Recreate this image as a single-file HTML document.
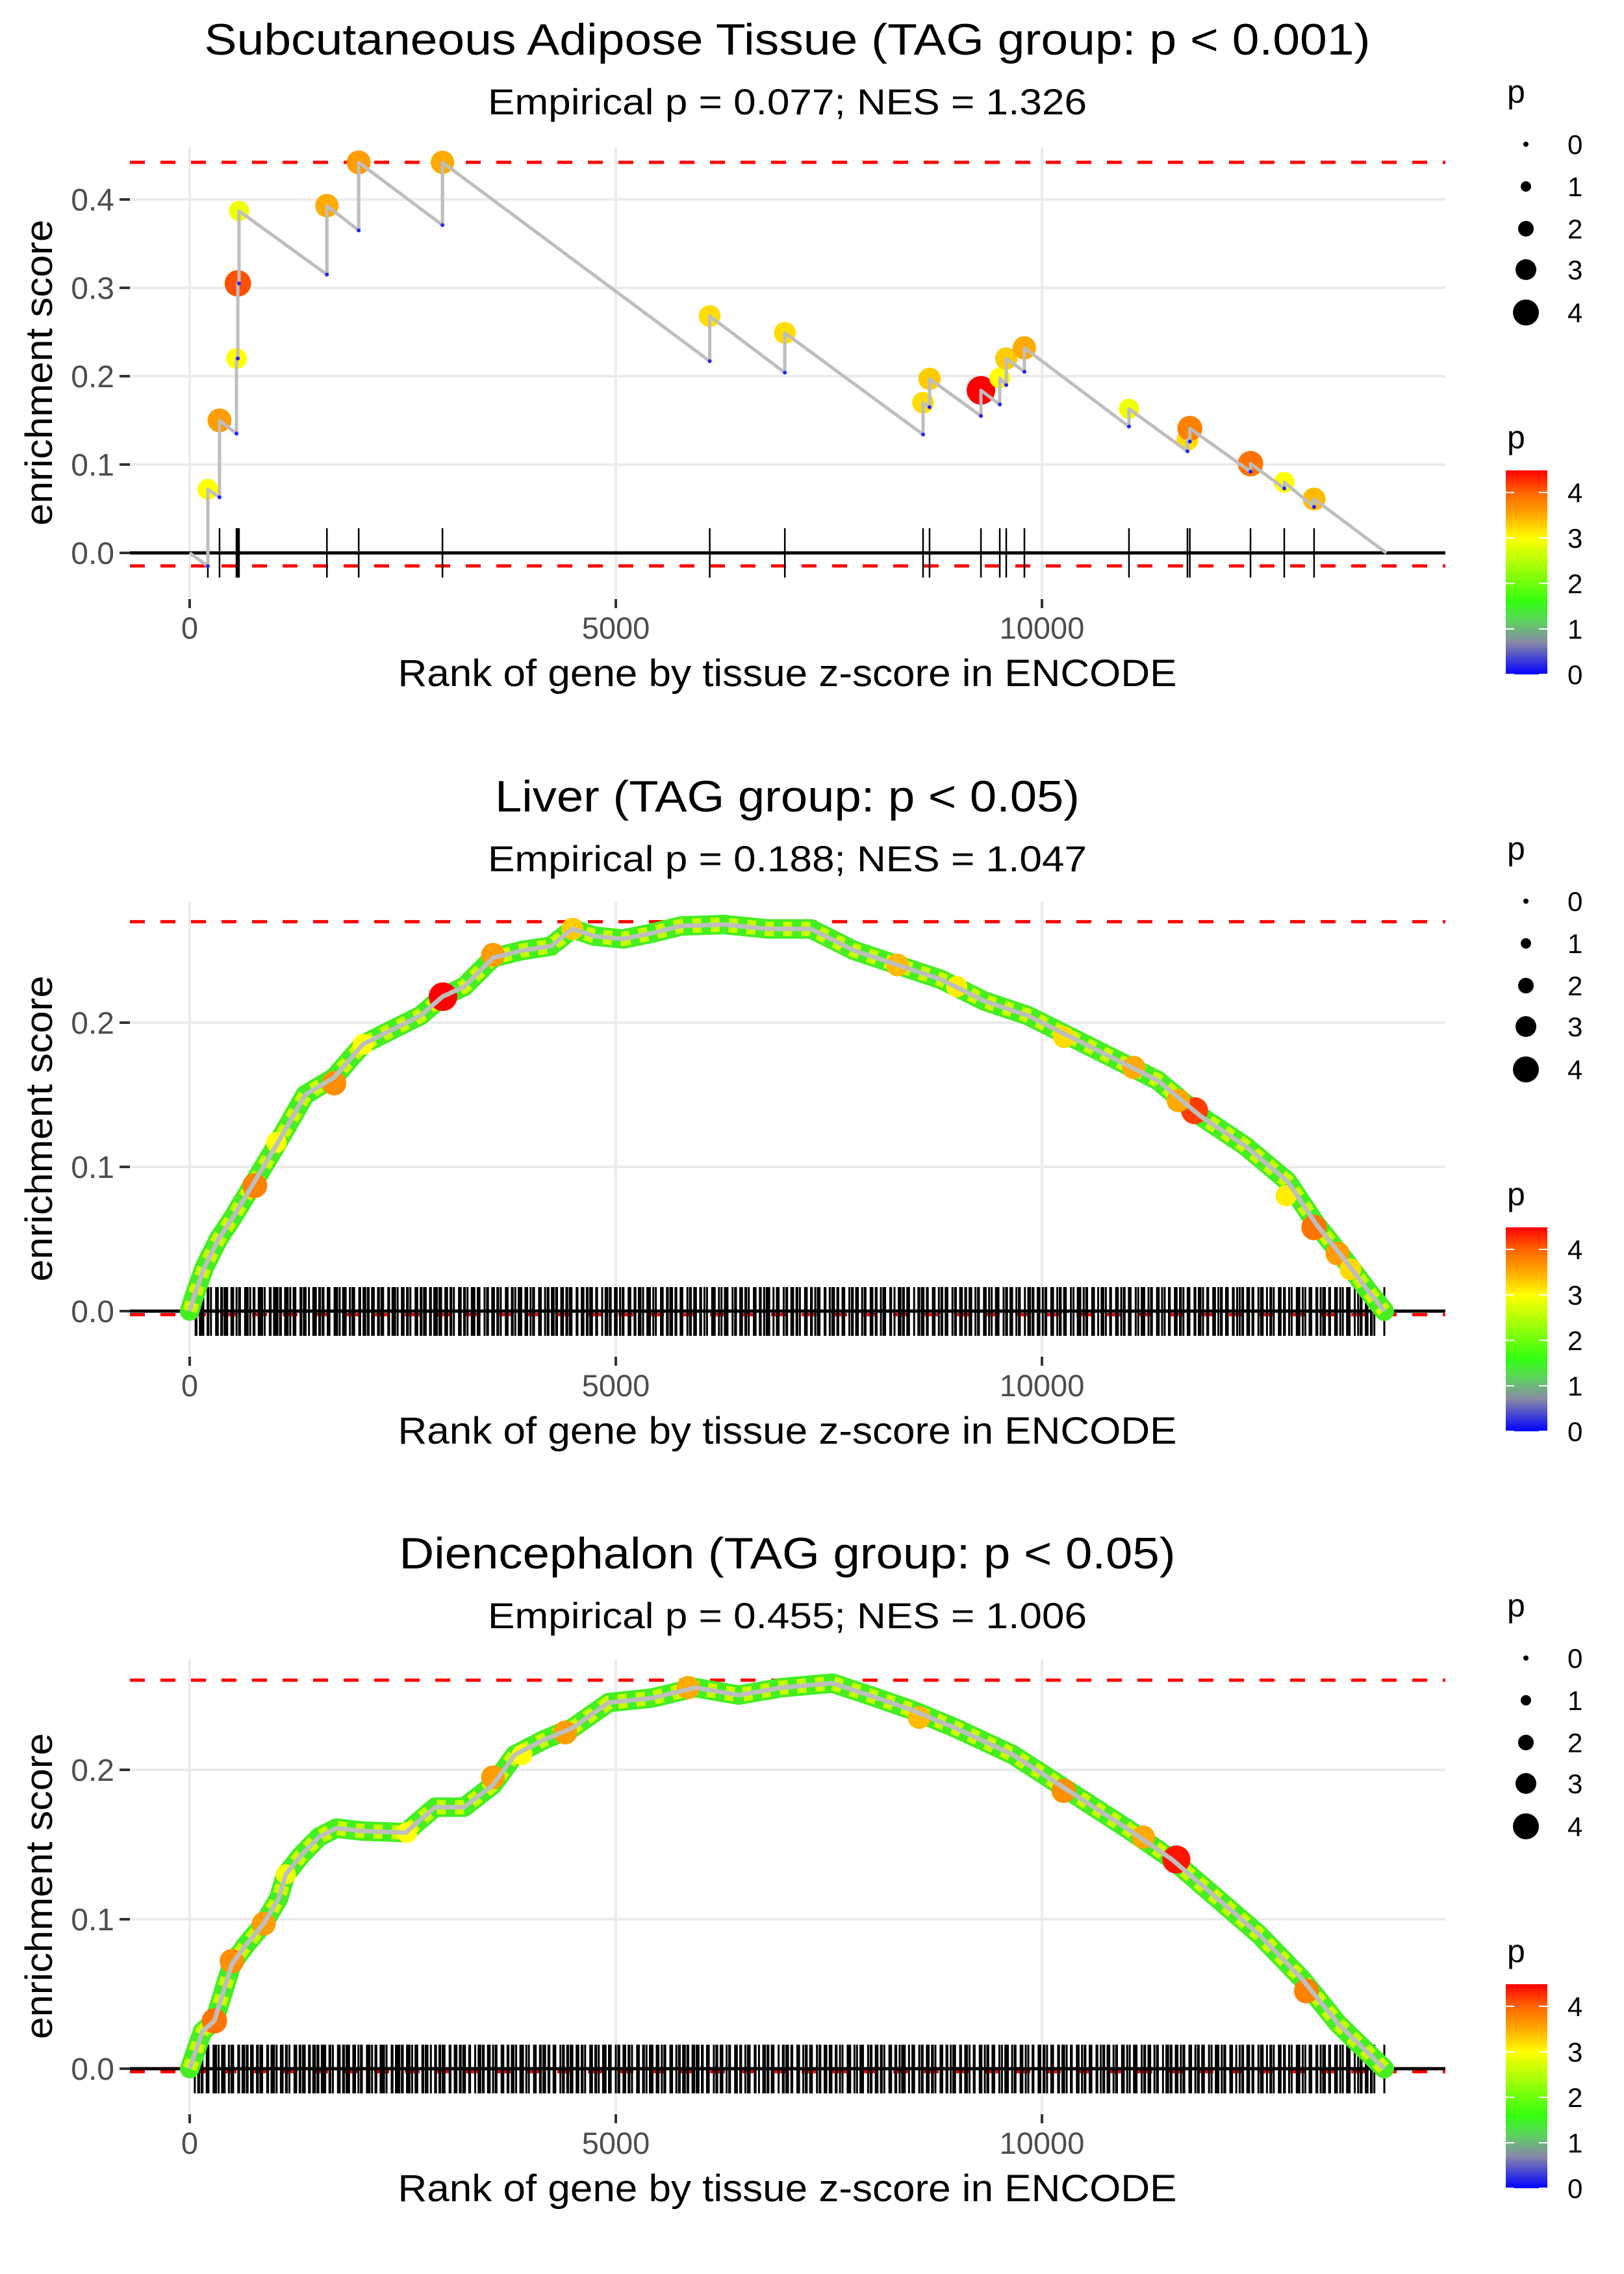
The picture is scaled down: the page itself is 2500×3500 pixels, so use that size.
<!DOCTYPE html>
<html><head><meta charset="utf-8"><style>
html,body{margin:0;padding:0;background:#fff;}
svg{display:block;font-family:"Liberation Sans",Arial,sans-serif;}
</style></head><body>
<svg id="chart" xmlns="http://www.w3.org/2000/svg" width="2500" height="3500" viewBox="0 0 2500 3500">
<defs>
<linearGradient id="pgrad" x1="0" y1="1" x2="0" y2="0">
<stop offset="0" stop-color="#0000ff"/><stop offset="0.156" stop-color="#8888a8"/><stop offset="0.267" stop-color="#5ad65a"/><stop offset="0.356" stop-color="#33ff11"/><stop offset="0.668" stop-color="#ffff00"/><stop offset="0.78" stop-color="#ffaa00"/><stop offset="0.89" stop-color="#ff6600"/><stop offset="1" stop-color="#ff0000"/>
</linearGradient>
</defs>
<rect x="0" y="0" width="2500" height="3500" fill="#fff"/>
<g text-anchor="middle" fill="#000">
<text x="1212" y="84" font-size="68" textLength="1795" lengthAdjust="spacingAndGlyphs">Subcutaneous Adipose Tissue (TAG group: p &lt; 0.001)</text>
<text x="1212" y="176" font-size="56" textLength="922" lengthAdjust="spacingAndGlyphs">Empirical p = 0.077; NES = 1.326</text>
<text x="1212" y="1249" font-size="68" textLength="900" lengthAdjust="spacingAndGlyphs">Liver (TAG group: p &lt; 0.05)</text>
<text x="1212" y="1341" font-size="56" textLength="922" lengthAdjust="spacingAndGlyphs">Empirical p = 0.188; NES = 1.047</text>
<text x="1212" y="2414" font-size="68" textLength="1195" lengthAdjust="spacingAndGlyphs">Diencephalon (TAG group: p &lt; 0.05)</text>
<text x="1212" y="2506" font-size="56" textLength="922" lengthAdjust="spacingAndGlyphs">Empirical p = 0.455; NES = 1.006</text>
</g>
</svg>
<script>
// ---------- data ----------
const xTicks = [0, 5000, 10000];
const xTickLabels = ["0", "5000", "10000"];
const yTicks1 = [0, 0.1, 0.2, 0.3, 0.4];
const yTicks2 = [0, 0.1, 0.2];
const yTicks3 = [0, 0.1, 0.2];
const yTickLabels1 = ["0.0", "0.1", "0.2", "0.3", "0.4"];
const yTickLabels2 = ["0.0", "0.1", "0.2"];
const yTickLabels3 = ["0.0", "0.1", "0.2"];
const legendSizes = [0, 1, 2, 3, 4];
const legendLabels = ["0", "1", "2", "3", "4"];

// panel 1 (adipose) hits
const hitRank1 = [213,350,549,565,579,1610,1983,2966,6102,6983,8605,8681,9284,9505,9581,9794,11021,11707,11735,12447,12843,13193];
const troughES1 = [-0.015,0.063,0.135,0.22,0.305,0.315,0.365,0.371,0.217,0.204,0.134,0.165,0.155,0.168,0.19,0.205,0.143,0.115,0.126,0.092,0.073,0.052];
const peakES1 = [0.072,0.15,0.22,0.305,0.387,0.393,0.442,0.442,0.268,0.249,0.17,0.197,0.184,0.198,0.22,0.232,0.163,0.128,0.141,0.101,0.08,0.061];
const hitP1 = [3.0,3.6,3.0,4.1,2.9,3.5,3.6,3.5,3.2,3.2,3.2,3.3,4.5,3.0,3.3,3.5,2.9,3.2,3.8,3.9,3.0,3.4];
const endRank1 = 14040;
const maxES1 = 0.442, minES1 = -0.0147;

// panel 2 (liver) curve
const curveRank2 = [0,51,170,339,508,763,1017,1356,1695,2034,2373,2712,2966,3221,3560,3899,4238,4492,4746,5085,5424,5763,6272,6780,7289,7797,8306,8814,9323,9831,10340,10848,11357,11865,12374,12882,13221,13560,13815,14017];
const curveES2 = [0,0.01,0.03,0.05,0.065,0.09,0.115,0.15,0.162,0.185,0.195,0.205,0.218,0.225,0.245,0.25,0.253,0.265,0.26,0.258,0.262,0.267,0.268,0.265,0.265,0.25,0.24,0.23,0.215,0.205,0.19,0.175,0.16,0.135,0.115,0.09,0.06,0.035,0.015,0];
const bigRank2 = [2972,3560,1695,763,11791,11600,11075,10259,12866,13193,13468,13620,8306,9000,4492,2034,1017];
const bigES2 = [0.218,0.247,0.158,0.087,0.139,0.146,0.169,0.19,0.08,0.058,0.04,0.029,0.24,0.225,0.265,0.185,0.117];
const bigP2 = [4.5,3.6,3.7,3.8,4.2,3.5,3.5,3.2,3.1,3.9,3.6,3.2,3.4,3.1,3.3,3.0,3.0];
const maxES2 = 0.270, minES2 = -0.0025;
const rugGaps2 = "31422513624131252431621341522361422315213426132451" +
 "24131526213412532614231425132614213524136241325142" +
 "13252413624135214263152413625134215243162531423152" +
 "41326152413251642315243162514235214362513241526314" +
 "25143621534126315241362514321542631524136251432615" +
 "32415263142531624153261452314265132416253142631524" +
 "14253162435126314253164231524316253142635124316254" +
 "23516243152634125316243516241352614235162431526143" +
 "31524163254136241536214352614325162435126431524136";

// panel 3 (diencephalon) curve
const curveRank3 = [0,152,290,495,663,869,1044,1128,1311,1517,1723,2027,2538,2675,2881,3221,3560,3814,4153,4492,4916,5424,5933,6441,6950,7543,7967,8475,8984,9662,10340,11018,11526,12035,12543,13052,13476,14017];
const curveES3 = [0,0.025,0.032,0.07,0.083,0.097,0.114,0.13,0.143,0.155,0.161,0.159,0.158,0.165,0.175,0.175,0.19,0.21,0.22,0.228,0.245,0.248,0.255,0.25,0.255,0.258,0.25,0.24,0.228,0.21,0.185,0.16,0.14,0.115,0.09,0.06,0.03,0];
const bigRank3 = [290,495,869,3560,4407,5848,10255,11188,11577,13103,8560,3899,2550,1128];
const bigES3 = [0.032,0.072,0.097,0.195,0.225,0.255,0.186,0.155,0.14,0.052,0.235,0.21,0.158,0.13];
const bigP3 = [3.9,3.7,3.6,3.6,3.6,3.5,3.7,3.5,4.4,3.8,3.4,3.0,3.0,2.9];
const maxES3 = 0.260, minES3 = -0.002;
const rugGaps3 = "24131526213412532614231425132614213524136241325142" +
 "31422513624131252431621341522361422315213426132451" +
 "41326152413251642315243162514235214362513241526314" +
 "13252413624135214263152413625134215243162531423152" +
 "32415263142531624153261452314265132416253142631524" +
 "25143621534126315241362514321542631524136251432615" +
 "23516243152634125316243516241352614235162431526143" +
 "14253162435126314253164231524316253142635124316254" +
 "31524163254136241536214352614325162435126431524136";

// ---------- drawing ----------
const NS = "http://www.w3.org/2000/svg";
const svg = document.getElementById("chart");
function mk(tag, attrs, parent) {
  const e = document.createElementNS(NS, tag);
  for (const k in attrs) e.setAttribute(k, attrs[k]);
  (parent || svg).appendChild(e);
  return e;
}
const X0 = 292, XK = 0.1312, PL = 200, PR = 2225;
function xs(r) { return X0 + r * XK; }
const stops = [[0,[0,0,255]],[0.7,[136,136,168]],[1.2,[90,214,90]],[1.6,[51,255,17]],[3,[255,255,0]],[3.5,[255,170,0]],[4,[255,102,0]],[4.5,[255,0,0]]];
function pColor(p) {
  if (p <= stops[0][0]) return "rgb(0,0,255)";
  for (let i = 1; i < stops.length; i++) {
    if (p <= stops[i][0]) {
      const a = stops[i-1], b = stops[i], t = (p - a[0]) / (b[0] - a[0]);
      const c = a[1].map((v, j) => Math.round(v + (b[1][j] - v) * t));
      return "rgb(" + c.join(",") + ")";
    }
  }
  return "rgb(255,0,0)";
}
function pRadius(p) { return 4 + 4 * p; }

function drawPanel(cfg) {
  const g = mk("g", {transform: "translate(0," + cfg.off + ")"});
  
  
  const ys = v => cfg.y0 - v * cfg.k;
  cfg.yticks.forEach((v, i) => {
    const l = mk("line", {x1: PL, x2: PR, y1: ys(v), y2: ys(v), stroke: "#ebebeb", "stroke-width": 4}, g);
    
    
    const t = mk("line", {x1: 184, x2: 200, y1: ys(v), y2: ys(v), stroke: "#333", "stroke-width": 4}, g);
    
    
    const tx = mk("text", {x: 176, y: ys(v) + 17, "text-anchor": "end", "font-size": 48, fill: "#4d4d4d"}, g);
    
    
    tx.textContent = cfg.ylabels[i];
  });
  xTicks.forEach((v, i) => {
    const l = mk("line", {x1: xs(v), x2: xs(v), y1: cfg.top, y2: cfg.bottom, stroke: "#ebebeb", "stroke-width": 4}, g);
    
    
    const t = mk("line", {x1: xs(v), x2: xs(v), y1: cfg.bottom + 2, y2: cfg.bottom + 16, stroke: "#333", "stroke-width": 4}, g);
    
    
    const tx = mk("text", {x: xs(v), y: cfg.bottom + 63, "text-anchor": "middle", "font-size": 47, fill: "#4d4d4d"}, g);
    
    
    tx.textContent = xTickLabels[i];
  });
  [cfg.maxES, cfg.minES].forEach(v => {
    const d = mk("line", {x1: PL, x2: PR, y1: ys(v), y2: ys(v), stroke: "#ff0000", "stroke-width": 5, "stroke-dasharray": "23 24"}, g);
    
    
  });
  const rg = mk("g", {stroke: "#000", "stroke-width": cfg.rugW}, g);
  
  
  cfg.rug.forEach(r => {
    const l = mk("line", {x1: xs(r), x2: xs(r), y1: cfg.rugTop, y2: cfg.rugBot}, rg);
    
    
  });
  const z = mk("line", {x1: PL, x2: PR, y1: ys(0), y2: ys(0), stroke: "#000", "stroke-width": 5}, g);
  
  
  const xt = mk("text", {x: 1212, y: cfg.bottom + 136, "text-anchor": "middle", "font-size": 58, fill: "#000", textLength: 1199, lengthAdjust: "spacingAndGlyphs"}, g);
  
  
  xt.textContent = "Rank of gene by tissue z-score in ENCODE";
  const cy = (cfg.top + cfg.bottom) / 2;
  const yt = mk("text", {x: 0, y: 0, transform: "translate(80," + cy + ") rotate(-90)", "text-anchor": "middle", "font-size": 58, fill: "#000", textLength: 471, lengthAdjust: "spacingAndGlyphs"}, g);
  
  
  yt.textContent = "enrichment score";
  return {g, ys};
}

function drawLegend(off) {
  const g = mk("g", {transform: "translate(0," + off + ")"});
  
  
  const t1 = mk("text", {x: 2320, y: 158, "font-size": 50, fill: "#000"}, g);
  
  
  t1.textContent = "p";
  const rows = [222, 287, 352, 415, 481];
  legendSizes.forEach((s, i) => {
    const c = mk("circle", {cx: 2349, cy: rows[i], r: pRadius(s), fill: "#000"}, g);
    
    
    const t = mk("text", {x: 2413, y: rows[i] + 15, "font-size": 42, fill: "#000"}, g);
    
    
    t.textContent = legendLabels[i];
  });
  const t2 = mk("text", {x: 2320, y: 690, "font-size": 50, fill: "#000"}, g);
  
  
  t2.textContent = "p";
  const bar = mk("rect", {x: 2318, y: 724, width: 64, height: 314, fill: "url(#pgrad)"}, g);
  
  
  legendSizes.forEach((s, i) => {
    const y = 1038 - s * 70;
    const a = mk("line", {x1: 2318, x2: 2331, y1: y, y2: y, stroke: "#fff", "stroke-width": 2}, g);
    
    
    const b = mk("line", {x1: 2369, x2: 2382, y1: y, y2: y, stroke: "#fff", "stroke-width": 2}, g);
    
    
    const t = mk("text", {x: 2413, y: y + 15, "font-size": 42, fill: "#000"}, g);
    
    
    t.textContent = legendLabels[i];
  });
}

function rugFrom(gaps) {
  const out = []; let r = 40;
  for (const ch of gaps) { r += (+ch) * 10; if (r > 13900) break; out.push(r); }
  out.push(14017);
  return out;
}

// Panel 1
(function () {
  const P = drawPanel({name: "adipose", off: 0, y0: 851, k: 1360, top: 227, bottom: 920, yticks: yTicks1, ylabels: yTickLabels1, maxES: maxES1, minES: minES1, rug: hitRank1, rugTop: 813, rugBot: 889, rugW: 2.5});
  const g = P.g, ys = P.ys;
  let pts = [[xs(0), ys(0)]];
  hitRank1.forEach((r, i) => { pts.push([xs(r), ys(troughES1[i])]); pts.push([xs(r), ys(peakES1[i])]); });
  pts.push([xs(endRank1), ys(0)]);
  const line = mk("polyline", {points: pts.map(p => p.join(",")).join(" "), fill: "none", stroke: "#bebebe", "stroke-width": 5, "stroke-linejoin": "round"}, g);
  
  
  hitRank1.forEach((r, i) => {
    const c = mk("circle", {cx: xs(r), cy: ys(peakES1[i]), r: pRadius(hitP1[i]), fill: pColor(hitP1[i])}, g);
    
    
  });
  const line2 = mk("polyline", {points: pts.map(p => p.join(",")).join(" "), fill: "none", stroke: "#bebebe", "stroke-width": 5, "stroke-linejoin": "round"}, g);
  
  
  hitRank1.forEach((r, i) => {
    const c = mk("circle", {cx: xs(r), cy: ys(troughES1[i]), r: 3, fill: "#2222ff"}, g);
    
    
  });
})();

function densePanel(cfg, cr, ce, br, be, bp) {
  const P = drawPanel(cfg);
  const g = P.g, ys = P.ys;
  const pts = cr.map((r, i) => xs(r) + "," + ys(ce[i])).join(" ");
  const band = mk("polyline", {points: pts, fill: "none", stroke: "#44ee22", "stroke-width": 30, "stroke-linejoin": "round", "stroke-linecap": "round"}, g);
  
  
  const band2 = mk("polyline", {points: pts, fill: "none", stroke: "#c8ff00", "stroke-width": 22, "stroke-dasharray": "14 14", "stroke-linejoin": "round"}, g);
  
  
  br.forEach((r, i) => {
    const c = mk("circle", {cx: xs(r), cy: ys(be[i]), r: pRadius(bp[i]), fill: pColor(bp[i])}, g);
    
    
  });
  const line = mk("polyline", {points: pts, fill: "none", stroke: "#bebebe", "stroke-width": 7, "stroke-linejoin": "round"}, g);
  
  
}

densePanel({name: "liver", off: 1165, y0: 853, k: 2220, top: 223, bottom: 921, yticks: yTicks2, ylabels: yTickLabels2, maxES: maxES2, minES: minES2, rug: rugFrom(rugGaps2), rugTop: 816, rugBot: 891, rugW: 3},
  curveRank2, curveES2, bigRank2, bigES2, bigP2);
densePanel({name: "diencephalon", off: 2330, y0: 854, k: 2300, top: 224, bottom: 922, yticks: yTicks3, ylabels: yTickLabels3, maxES: maxES3, minES: minES3, rug: rugFrom(rugGaps3), rugTop: 817, rugBot: 892, rugW: 3},
  curveRank3, curveES3, bigRank3, bigES3, bigP3);

drawLegend(0);
drawLegend(1165);
drawLegend(2330);
</script>
</body></html>
